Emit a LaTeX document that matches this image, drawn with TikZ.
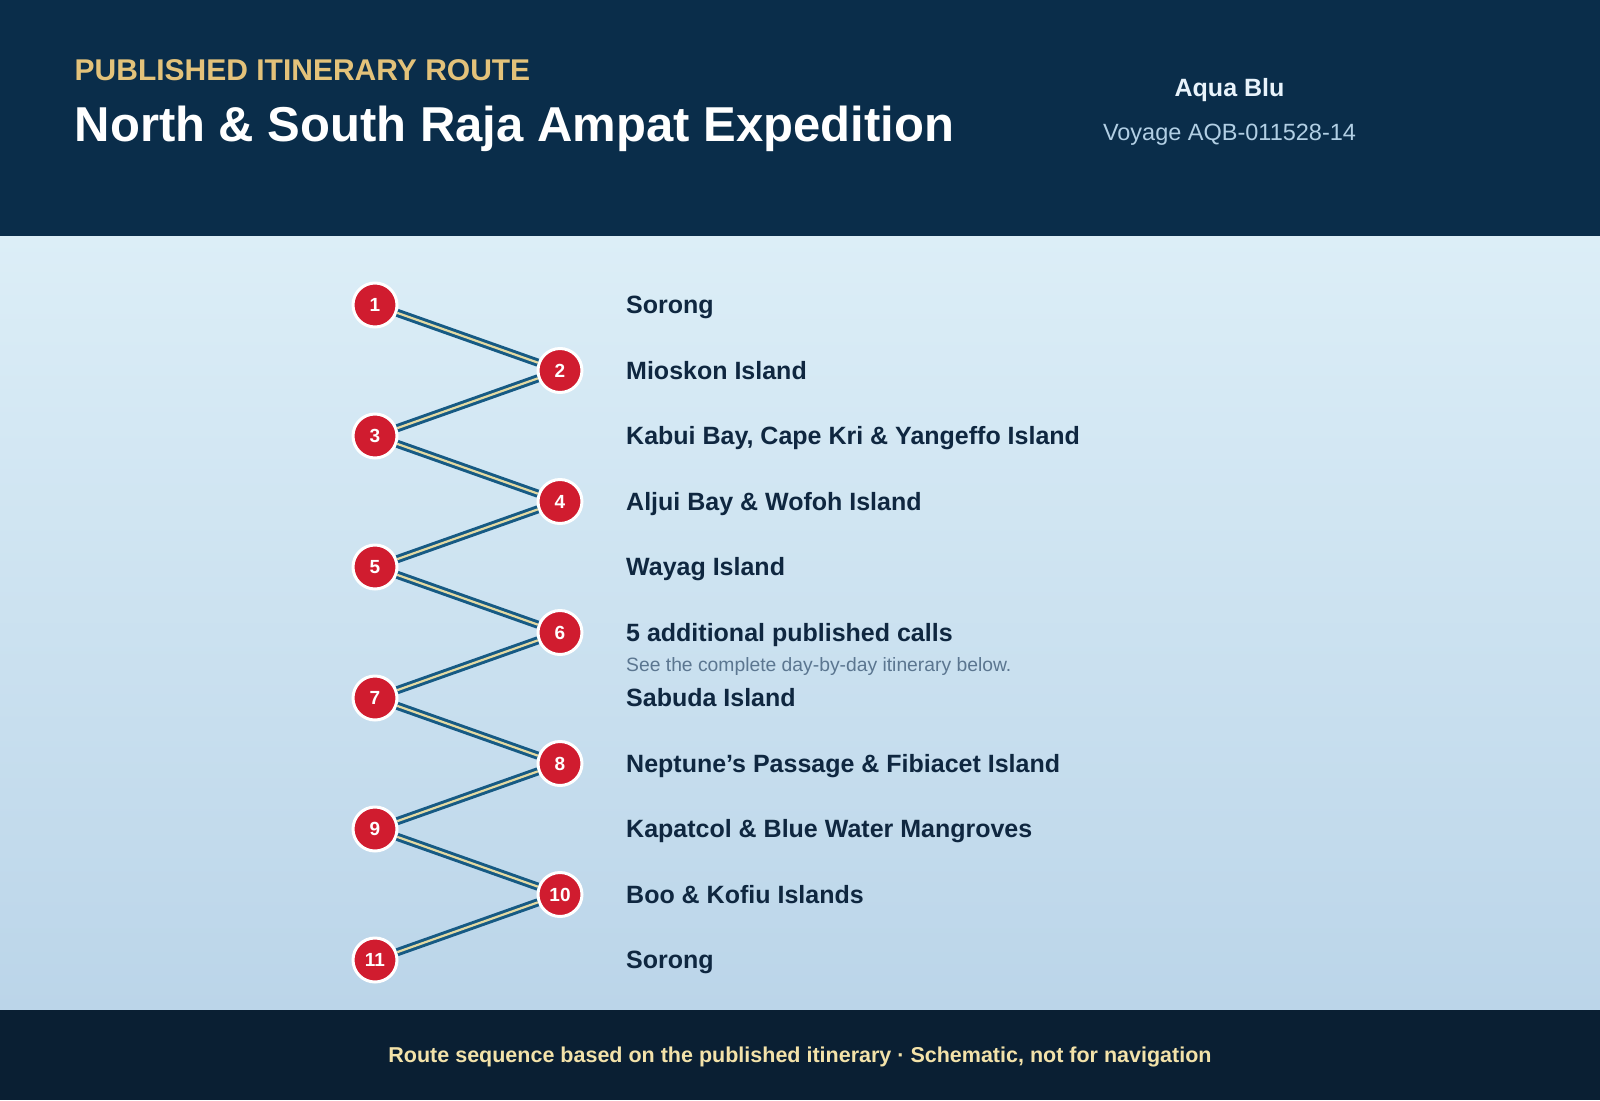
\documentclass[tikz,border=0pt]{standalone}
\usepackage{fontspec}
\setmainfont{Liberation Sans}
\usetikzlibrary{positioning}

\definecolor{headbg}{HTML}{0A2D4A}
\definecolor{footbg}{HTML}{0A1F33}
\definecolor{seatop}{HTML}{DCEEF7}
\definecolor{seabot}{HTML}{BBD5E9}
\definecolor{kickergold}{HTML}{E3C27A}
\definecolor{shipwhite}{HTML}{E8F3FB}
\definecolor{voyageblue}{HTML}{B2CFE4}
\definecolor{portred}{HTML}{D01C2F}
\definecolor{legblue}{HTML}{165A84}
\definecolor{legcream}{HTML}{E2D9A2}
\definecolor{portink}{HTML}{0F2740}
\definecolor{noteink}{HTML}{5B7690}
\definecolor{footcream}{HTML}{F3E2A9}

\tikzset{
  portdot/.style={circle, fill=portred, draw=white, line width=3pt,
    minimum size=44pt, inner sep=0pt, text=white,
    font=\fontsize{19}{19}\selectfont\bfseries},
  portname/.style={anchor=base west, inner sep=0pt, text=portink,
    font=\fontsize{25}{30}\selectfont\bfseries},
  leg/.style={draw=legblue, line width=3pt, double=legcream, double distance=2.2pt},
}

\begin{document}
\begin{tikzpicture}[x=1pt, y=-1pt]
    \useasboundingbox (0,0) rectangle (1600,1100);
    % Backdrop
    \shade[top color=seatop, bottom color=seabot] (0,236) rectangle (1600,1010);
    \fill[headbg] (0,0) rectangle (1600,236);
    \fill[footbg] (0,1010) rectangle (1600,1100);
    % Header
    \node[anchor=base west, inner sep=0pt, text=kickergold,
      font=\fontsize{30}{36}\selectfont\bfseries] (kicker) at (74.5,80) {PUBLISHED ITINERARY ROUTE};
    \node[anchor=base west, inner sep=0pt, text=white,
      font=\fontsize{49}{56}\selectfont\bfseries] (title) at (74.5,141) {North \& South Raja Ampat Expedition};
    \node[anchor=base, inner sep=0pt, text=shipwhite,
      font=\fontsize{25}{28}\selectfont\bfseries] (ship) at (1229.5,96.7) {Aqua Blu};
    \node[anchor=base, inner sep=0pt, text=voyageblue,
      font=\fontsize{23.5}{28}\selectfont] (voyage) at (1229.5,140) {Voyage AQB-011528-14};
    % Ports of call
    \foreach \i/\name in {1/Sorong, 2/Mioskon Island,
        3/{Kabui Bay, Cape Kri \& Yangeffo Island}, 4/Aljui Bay \& Wofoh Island,
        5/Wayag Island, 6/5 additional published calls, 7/Sabuda Island,
        8/Neptune’s Passage \& Fibiacet Island, 9/Kapatcol \& Blue Water Mangroves,
        10/Boo \& Kofiu Islands, 11/Sorong} {
        \pgfmathsetmacro\px{mod(\i,2)==1 ? 375 : 560}
        \pgfmathsetmacro\py{305+65.5*(\i-1)}
        \node[portdot] (s\i) at (\px,\py) {\i};
        \node[portname] (l\i) at (626,\py+8.5) {\name};
    }
    \node[anchor=base west, inner sep=0pt, text=noteink,
      font=\fontsize{19.3}{22}\selectfont] (note) at (626,671) {See the complete day-by-day itinerary below.};
    % Route legs
    \foreach \i [remember=\i as \j (initially 1)] in {2,...,11}
        \draw[leg] (s\j) -- (s\i);
    % Footer
    \node[anchor=base, inner sep=0pt, text=footcream,
      font=\fontsize{21.5}{26}\selectfont\bfseries] (foot) at (800,1062.7)
      {Route sequence based on the published itinerary · Schematic, not for navigation};
\end{tikzpicture}
\end{document}
